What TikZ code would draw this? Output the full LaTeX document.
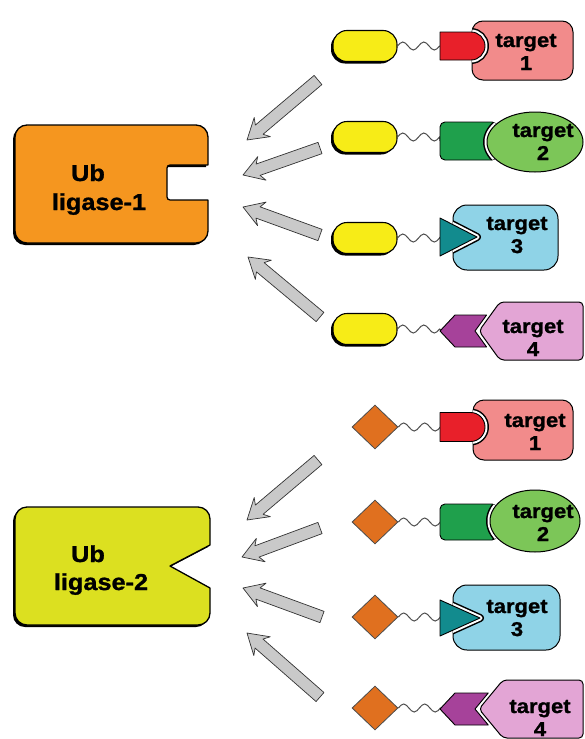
\documentclass[tikz,border=0pt]{standalone}
\usepackage{fontspec}
\newfontfamily\lblfont{Liberation Sans}[FakeStretch=1.1, FakeBold=1.2]
\usetikzlibrary{calc,shapes.geometric}

\definecolor{ligorange}{HTML}{F5961F}
\definecolor{ligyellow}{HTML}{DCE020}
\definecolor{ovalyellow}{HTML}{F7EC17}
\definecolor{capred}{HTML}{E8202A}
\definecolor{tpink}{HTML}{F28B8B}
\definecolor{capgreen}{HTML}{1FA04C}
\definecolor{tgreen}{HTML}{7CC658}
\definecolor{capteal}{HTML}{128B8E}
\definecolor{tblue}{HTML}{8FD3E7}
\definecolor{cappurple}{HTML}{A6429A}
\definecolor{tlilac}{HTML}{E3A5D5}
\definecolor{dorange}{HTML}{E0701F}
\definecolor{arrowgray}{HTML}{C9C9C9}

% cap outlines: D-shaped cap and triangular cap
\newcommand\Dcap[2]{(440,#1-#2) -- (485-#2,#1-#2) arc[start angle=270,end angle=450,radius=#2] -- (440,#1+#2) -- cycle}
\newcommand\Tcap[3]{(440,#1-#2) -- (#3,#1) -- (440,#1+#2) -- cycle}
% two periods of a wavy linker
\newcommand\wave{sin ++(5.25,-4) cos ++(5.25,4) sin ++(5.25,4) cos ++(5.25,-4)
  sin ++(5.25,-4) cos ++(5.25,4) sin ++(5.25,4) cos ++(5.25,-4)}

% target 1: rounded box hollowed around a D-shaped cap
\newcommand\rowD[5]{%
  \path[tline, fill=tpink, rounded corners=11pt] (#3,#4) rectangle (573,#5);
  \begin{scope}
    \clip[rounded corners=11pt] (#3,#4) rectangle (573,#5);
    \draw[gapouter] \Dcap{#1}{#2};
    \draw[gapinner] \Dcap{#1}{#2};
  \end{scope}
  \path[capline, fill=capred] \Dcap{#1}{#2};
}
% target 2: oval target biting into a square cap
\newcommand\rowG[6]{%
  \path[capline, fill=capgreen, rounded corners=5pt] (440,#1-#2) rectangle (497,#1+#2);
  \begin{scope}
    \clip[rounded corners=5pt] (440,#1-#2) rectangle (497,#1+#2);
    \draw[gapouter] (#3,#4) ellipse [x radius=#5, y radius=#6];
    \draw[gapinner] (#3,#4) ellipse [x radius=#5, y radius=#6];
  \end{scope}
  \path[tline, fill=tgreen] (#3,#4) ellipse [x radius=#5, y radius=#6];
}
% target 3: rounded box hollowed around a triangular cap
\newcommand\rowT[6]{%
  \path[tline, fill=tblue, rounded corners=14pt] (453,#4) rectangle (#6,#5);
  \begin{scope}
    \clip[rounded corners=14pt] (453,#4) rectangle (#6,#5);
    \draw[gapouter] \Tcap{#1}{#2}{#3};
    \draw[gapinner] \Tcap{#1}{#2}{#3};
  \end{scope}
  \path[capline, fill=capteal] \Tcap{#1}{#2}{#3};
}
% target 4: pointed target fitting a notched chevron cap
\newcommand\rowC[3]{%
  \path[capline, fill=cappurple] (440,#1) -- (455,#1-16) -- ({475+16*#3/#2},#1-16)
    -- (475,#1) -- ({475+16*#3/#2},#1+16) -- (455,#1+16) -- cycle;
  \path[tline, fill=tlilac, rounded corners=4pt] (479,#1) -- (479+#3,#1-#2)
    -- (583,#1-#2) -- (583,#1+#2) -- (479+#3,#1+#2) -- cycle;
}
% two-line target label
\newcommand\tlabel[4]{%
  \node[tlabel] (#1a) at (#2,#3) {target};
  \node[tlabel] (#1b) at (#2,#3+23) {#4};
}
% broad grey arrow from tail to tip
\newcommand\grayarrow[2]{%
  \path[bigarrow] (#2) -- ($(#2)!20pt!(#1)!12.5pt!90:(#1)$) -- ($(#2)!16pt!(#1)!6pt!90:(#1)$)
    -- ($(#1)!6pt!-90:(#2)$) -- ($(#1)!6pt!90:(#2)$)
    -- ($(#2)!16pt!(#1)!6pt!-90:(#1)$) -- ($(#2)!20pt!(#1)!12.5pt!-90:(#1)$) -- cycle;
}

\begin{document}
\begin{tikzpicture}[x=1pt, y=-1pt,
  shadowed/.style={preaction={fill=black, transform canvas={shift={(-2pt,-2pt)}}}},
  ligase/.style={draw=black, line width=1.3pt, line join=round, shadowed},
  oval/.style={draw=black, fill=ovalyellow, line width=1.1pt, rounded corners=14pt,
    minimum width=64pt, minimum height=31pt, inner sep=0pt, shadowed},
  diam/.style={diamond, draw=black!70, fill=dorange, line width=0.8pt,
    minimum width=46pt, minimum height=44pt, inner sep=0pt},
  tline/.style={draw=black, line width=1pt, line join=round},
  capline/.style={draw=black, line width=0.9pt, line join=round},
  gapouter/.style={draw=black, line width=8pt, line join=round},
  gapinner/.style={draw=white, fill=white, line width=5pt, line join=round},
  linker/.style={draw=black!70, line width=1pt},
  bigarrow/.style={fill=arrowgray, draw=black!80, line width=0.7pt, line join=round},
  tlabel/.style={font=\lblfont\bfseries\fontsize{20}{22}\selectfont, anchor=base, inner sep=0pt},
  liglabel/.style={font=\lblfont\bfseries\fontsize{23}{28}\selectfont, anchor=base, inner sep=0pt}
]
\useasboundingbox (0,0) rectangle (584,739);

% ---------- Ub ligase-1 ----------
\path[ligase, fill=ligorange] (27,125) -- (196,125) arc[start angle=270,end angle=360,radius=12]
  -- (208,165) -- (170,165) arc[start angle=270,end angle=180,radius=3]
  -- (167,197) arc[start angle=180,end angle=90,radius=3]
  -- (208,200) -- (208,231) arc[start angle=0,end angle=90,radius=12]
  -- (27,243) arc[start angle=90,end angle=180,radius=12]
  -- (15,137) arc[start angle=180,end angle=270,radius=12] -- cycle;
\node[liglabel] (ub1) at (88,181) {Ub};
\node[liglabel] (lig1) at (99,210) {ligase-1};

% ---------- Ub ligase-2 ----------
\path[ligase, fill=ligyellow] (27,507) -- (198,507) arc[start angle=270,end angle=360,radius=12]
  -- (210,545) -- (170,566) -- (210,588)
  -- (210,613) arc[start angle=0,end angle=90,radius=12]
  -- (27,625) arc[start angle=90,end angle=180,radius=12]
  -- (15,519) arc[start angle=180,end angle=270,radius=12] -- cycle;
\node[liglabel] (ub2) at (88,562) {Ub};
\node[liglabel] (lig2) at (101,590) {ligase-2};

% ---------- arrows ----------
\coordinate (ua1) at (318,80);  \coordinate (ub1t) at (247,140);
\coordinate (ua2) at (320,148); \coordinate (ub2t) at (243,175);
\coordinate (ua3) at (320,235); \coordinate (ub3t) at (243,207);
\coordinate (ua4) at (320,317); \coordinate (ub4t) at (248,257);
\coordinate (la1) at (318,460); \coordinate (lb1t) at (247,520);
\coordinate (la2) at (320,528); \coordinate (lb2t) at (242,557);
\coordinate (la3) at (322,617); \coordinate (lb3t) at (243,588);
\coordinate (la4) at (320,697); \coordinate (lb4t) at (247,633);
\grayarrow{ua1}{ub1t}
\grayarrow{ua2}{ub2t}
\grayarrow{ua3}{ub3t}
\grayarrow{ua4}{ub4t}
\grayarrow{la1}{lb1t}
\grayarrow{la2}{lb2t}
\grayarrow{la3}{lb3t}
\grayarrow{la4}{lb4t}

% ---------- upper set: yellow ovals ----------
\node[oval] (o1) at (365,46) {};
\node[oval] (o2) at (365,137) {};
\node[oval] (o3) at (365,238) {};
\node[oval] (o4) at (365,329) {};
\coordinate (c1) at (440,46);
\coordinate (c2) at (440,141);
\coordinate (c3) at (440,237);
\coordinate (c4) at (443,331);
\draw[linker] (o1.east) \wave -- (c1);
\draw[linker] (o2.east) \wave -- (c2);
\draw[linker] (o3.east) \wave -- (c3);
\draw[linker] (o4.east) \wave -- (c4);

\rowD{46}{14}{472}{21}{80}
\rowG{141}{19}{535}{142}{48}{30}
\rowT{237}{19}{477}{205}{270}{558}
\rowC{331}{29}{21}

\tlabel{ut1}{526}{47}{1}
\tlabel{ut2}{543}{137}{2}
\tlabel{ut3}{517}{230}{3}
\tlabel{ut4}{533}{333}{4}

% ---------- lower set: orange diamonds ----------
\node[diam] (d1) at (375,427) {};
\node[diam] (d2) at (375,522) {};
\node[diam] (d3) at (375,617) {};
\node[diam] (d4) at (375,708) {};
\coordinate (e1) at (440,427);
\coordinate (e2) at (440,522);
\coordinate (e3) at (440,618);
\coordinate (e4) at (443,709);
\draw[linker] (d1.east) \wave -- (e1);
\draw[linker] (d2.east) \wave -- (e2);
\draw[linker] (d3.east) \wave -- (e3);
\draw[linker] (d4.east) \wave -- (e4);

\rowD{427}{14.5}{473}{400}{460}
\rowG{522}{18}{535}{521}{45}{31}
\rowT{618}{18}{480}{585}{650}{560}
\rowC{709}{29}{24}

\tlabel{lt1}{535}{427}{1}
\tlabel{lt2}{543}{518}{2}
\tlabel{lt3}{517}{613}{3}
\tlabel{lt4}{540}{713}{4}
\end{tikzpicture}
\end{document}
